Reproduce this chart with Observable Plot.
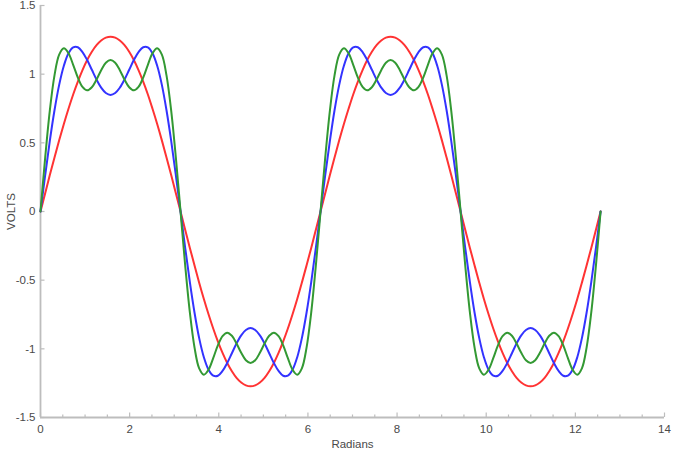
<!DOCTYPE html>
<html>
<head>
<meta charset="utf-8">
<script src="https://cdn.jsdelivr.net/npm/d3@7"></script>
<script src="https://cdn.jsdelivr.net/npm/@observablehq/plot@0.6"></script>
<style>
  html, body { margin: 0; padding: 0; background: #fff; }
  #chart svg { display: block; }
</style>
</head>
<body>
<div id="chart"></div>
<script>
// Radians (sample positions, 0 .. 4π)
const radians = [
  0, 0.105, 0.209, 0.314, 0.419, 0.524, 0.628, 0.733, 0.838, 0.942,
  1.047, 1.152, 1.257, 1.361, 1.466, 1.571, 1.676, 1.780, 1.885, 1.990,
  2.094, 2.199, 2.304, 2.409, 2.513, 2.618, 2.723, 2.827, 2.932, 3.037,
  3.142, 3.246, 3.351, 3.456, 3.560, 3.665, 3.770, 3.875, 3.979, 4.084,
  4.189, 4.294, 4.398, 4.503, 4.608, 4.712, 4.817, 4.922, 5.027, 5.131,
  5.236, 5.341, 5.445, 5.550, 5.655, 5.760, 5.864, 5.969, 6.074, 6.178,
  6.283, 6.388, 6.493, 6.597, 6.702, 6.807, 6.912, 7.016, 7.121, 7.226,
  7.330, 7.435, 7.540, 7.645, 7.749, 7.854, 7.959, 8.063, 8.168, 8.273,
  8.378, 8.482, 8.587, 8.692, 8.796, 8.901, 9.006, 9.111, 9.215, 9.320,
  9.425, 9.529, 9.634, 9.739, 9.844, 9.948, 10.053, 10.158, 10.263, 10.367,
  10.472, 10.577, 10.681, 10.786, 10.891, 10.996, 11.100, 11.205, 11.310, 11.414,
  11.519, 11.624, 11.729, 11.833, 11.938, 12.043, 12.147, 12.252, 12.357, 12.462,
  12.566
];

// Red curve (volts)
const redVolts = [
  0, 0.133, 0.265, 0.393, 0.518, 0.637, 0.748, 0.852, 0.946, 1.030,
  1.103, 1.163, 1.211, 1.245, 1.266, 1.273, 1.266, 1.245, 1.211, 1.163,
  1.103, 1.030, 0.946, 0.852, 0.748, 0.637, 0.518, 0.393, 0.265, 0.133,
  0, -0.133, -0.265, -0.393, -0.518, -0.637, -0.748, -0.852, -0.946, -1.030,
  -1.103, -1.163, -1.211, -1.245, -1.266, -1.273, -1.266, -1.245, -1.211, -1.163,
  -1.103, -1.030, -0.946, -0.852, -0.748, -0.637, -0.518, -0.393, -0.265, -0.133,
  0, 0.133, 0.265, 0.393, 0.518, 0.637, 0.748, 0.852, 0.946, 1.030,
  1.103, 1.163, 1.211, 1.245, 1.266, 1.273, 1.266, 1.245, 1.211, 1.163,
  1.103, 1.030, 0.946, 0.852, 0.748, 0.637, 0.518, 0.393, 0.265, 0.133,
  0, -0.133, -0.265, -0.393, -0.518, -0.637, -0.748, -0.852, -0.946, -1.030,
  -1.103, -1.163, -1.211, -1.245, -1.266, -1.273, -1.266, -1.245, -1.211, -1.163,
  -1.103, -1.030, -0.946, -0.852, -0.748, -0.637, -0.518, -0.393, -0.265, -0.133,
  0
];

// Blue curve (volts)
const blueVolts = [
  0, 0.264, 0.514, 0.737, 0.922, 1.061, 1.152, 1.195, 1.196, 1.161,
  1.103, 1.032, 0.961, 0.902, 0.863, 0.849, 0.863, 0.902, 0.961, 1.032,
  1.103, 1.161, 1.196, 1.195, 1.152, 1.061, 0.922, 0.737, 0.514, 0.264,
  0, -0.264, -0.514, -0.737, -0.922, -1.061, -1.152, -1.195, -1.196, -1.161,
  -1.103, -1.032, -0.961, -0.902, -0.863, -0.849, -0.863, -0.902, -0.961, -1.032,
  -1.103, -1.161, -1.196, -1.195, -1.152, -1.061, -0.922, -0.737, -0.514, -0.264,
  0, 0.264, 0.514, 0.737, 0.922, 1.061, 1.152, 1.195, 1.196, 1.161,
  1.103, 1.032, 0.961, 0.902, 0.863, 0.849, 0.863, 0.902, 0.961, 1.032,
  1.103, 1.161, 1.196, 1.195, 1.152, 1.061, 0.922, 0.737, 0.514, 0.264,
  0, -0.264, -0.514, -0.737, -0.922, -1.061, -1.152, -1.195, -1.196, -1.161,
  -1.103, -1.032, -0.961, -0.902, -0.863, -0.849, -0.863, -0.902, -0.961, -1.032,
  -1.103, -1.161, -1.196, -1.195, -1.152, -1.061, -0.922, -0.737, -0.514, -0.264,
  0
];

// Green curve (volts)
const greenVolts = [
  0, 0.392, 0.735, 0.991, 1.142, 1.188, 1.152, 1.068, 0.975, 0.907,
  0.882, 0.905, 0.961, 1.029, 1.083, 1.103, 1.083, 1.029, 0.961, 0.905,
  0.882, 0.907, 0.975, 1.068, 1.152, 1.188, 1.142, 0.991, 0.735, 0.392,
  0, -0.392, -0.735, -0.991, -1.142, -1.188, -1.152, -1.068, -0.975, -0.907,
  -0.882, -0.905, -0.961, -1.029, -1.083, -1.103, -1.083, -1.029, -0.961, -0.905,
  -0.882, -0.907, -0.975, -1.068, -1.152, -1.188, -1.142, -0.991, -0.735, -0.392,
  0, 0.392, 0.735, 0.991, 1.142, 1.188, 1.152, 1.068, 0.975, 0.907,
  0.882, 0.905, 0.961, 1.029, 1.083, 1.103, 1.083, 1.029, 0.961, 0.905,
  0.882, 0.907, 0.975, 1.068, 1.152, 1.188, 1.142, 0.991, 0.735, 0.392,
  0, -0.392, -0.735, -0.991, -1.142, -1.188, -1.152, -1.068, -0.975, -0.907,
  -0.882, -0.905, -0.961, -1.029, -1.083, -1.103, -1.083, -1.029, -0.961, -0.905,
  -0.882, -0.907, -0.975, -1.068, -1.152, -1.188, -1.142, -0.991, -0.735, -0.392,
  0
];

// Axis ticks
const xMajorTicks = [0, 2, 4, 6, 8, 10, 12, 14];
const xMinorTicks = [0.5, 1, 1.5, 2.5, 3, 3.5, 4.5, 5, 5.5, 6.5, 7, 7.5, 8.5, 9, 9.5,
  10.5, 11, 11.5, 12.5, 13, 13.5];
const yTicks = [-1.5, -1, -0.5, 0, 0.5, 1, 1.5];
const xDomain = [0, 14];
const yDomain = [-1.5, 1.5];

const series = [
  {name: "red", values: redVolts, color: "#ff3333"},
  {name: "blue", values: blueVolts, color: "#3333ff"},
  {name: "green", values: greenVolts, color: "#339933"}
];

const axisColor = "#bdbdbd";
const textColor = "#4a4a4a";

const lineMarks = series.map(s =>
  Plot.line(radians.map((x, i) => ({x, y: s.values[i]})), {
    x: "x", y: "y", stroke: s.color, strokeWidth: 2, curve: "catmull-rom"
  })
);

const chart = Plot.plot({
  width: 687,
  height: 455,
  marginLeft: 40,
  marginRight: 23,
  marginTop: 5,
  marginBottom: 38,
  style: {fontFamily: "'Liberation Sans', Arial, sans-serif", fontSize: "11.5px", color: textColor, background: "#fff"},
  x: {domain: xDomain},
  y: {domain: yDomain},
  marks: [
    // minor x ticks (inward)
    Plot.axisX({ticks: xMinorTicks, tickSize: -2.5, tickFormat: () => "", stroke: axisColor, strokeWidth: 1.2, label: null}),
    // major x ticks (inward)
    Plot.axisX({ticks: xMajorTicks, tickSize: -4.5, tickFormat: () => "", stroke: axisColor, strokeWidth: 1.2, label: null}),
    // x labels
    Plot.axisX({ticks: xMajorTicks, tickSize: 0, tickPadding: 7, tickFormat: d => String(d),
      fill: textColor, label: "Radians", labelAnchor: "center", labelArrow: "none", labelOffset: 30}),
    // y ticks (inward)
    Plot.axisY({ticks: yTicks, tickSize: -4.5, tickFormat: () => "", stroke: axisColor, strokeWidth: 1.2, label: null}),
    // y labels
    Plot.axisY({ticks: yTicks, tickSize: 0, tickPadding: 5, tickFormat: d => String(d),
      fill: textColor, label: "VOLTS", labelAnchor: "center", labelArrow: "none", labelOffset: 34}),
    // axis lines
    Plot.ruleY([yDomain[0]], {stroke: axisColor, strokeWidth: 1.8}),
    Plot.ruleX([xDomain[0]], {stroke: axisColor, strokeWidth: 1.8}),
    ...lineMarks
  ]
});

document.getElementById("chart").appendChild(chart);
</script>
</body>
</html>
